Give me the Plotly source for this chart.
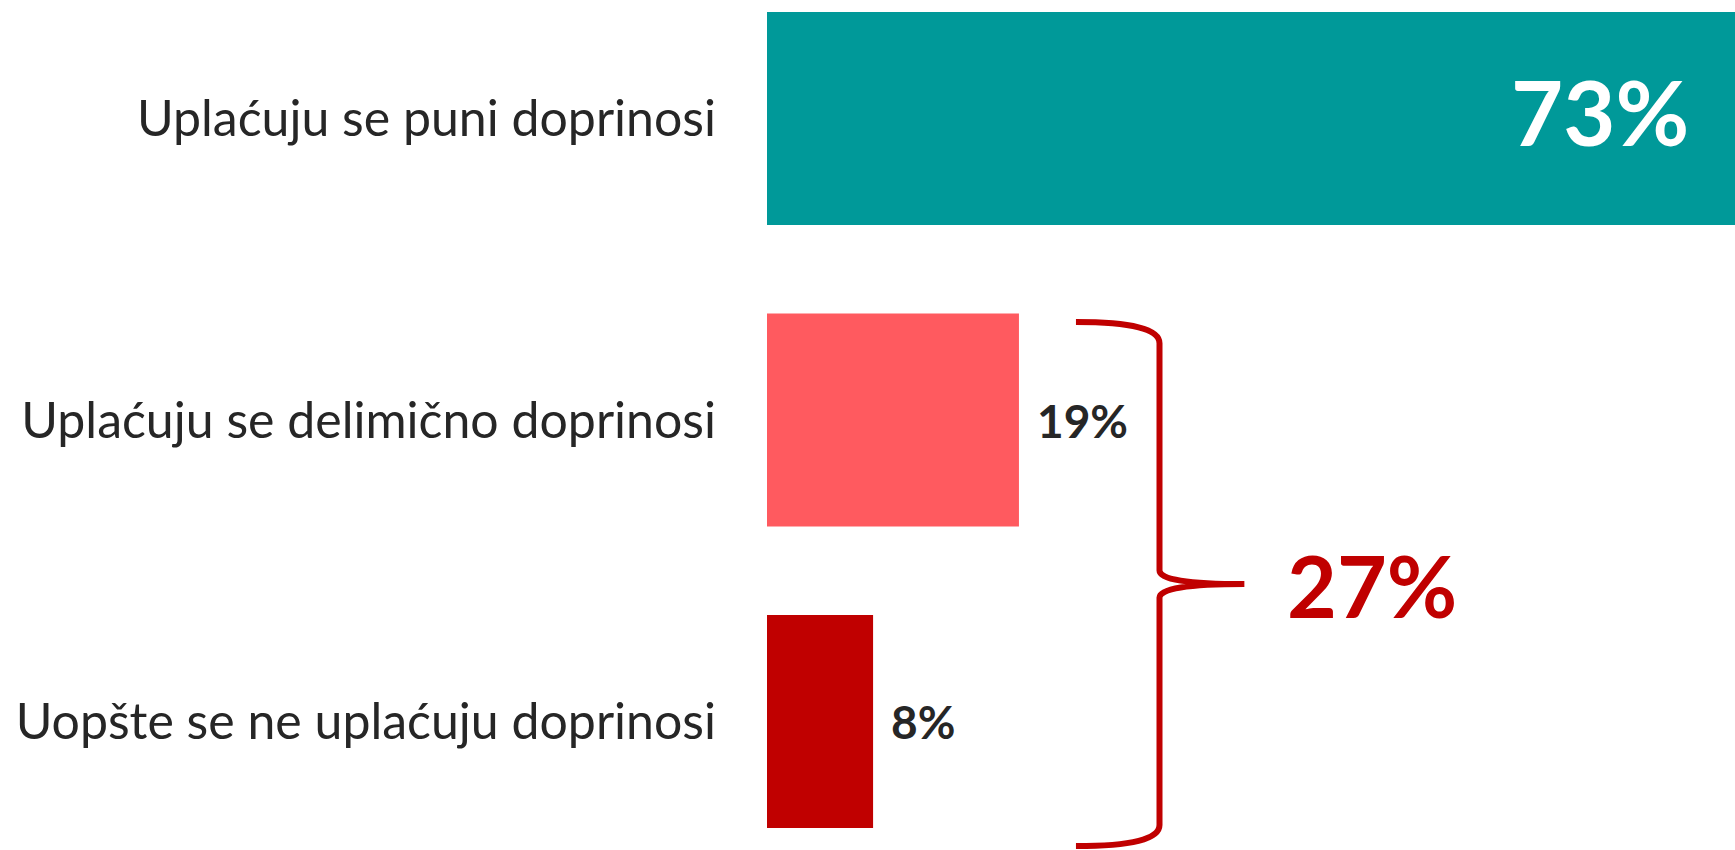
import plotly.graph_objects as go

categories = ["Uplaćuju se puni doprinosi", "Uplaćuju se delimično doprinosi", "Uopšte se ne uplaćuju doprinosi"]
values = [73, 19, 8]
value_labels = ["73%", "19%", "8%"]
bar_colors = ["#009999", "#FF5A5F", "#C00000"]
group_members = [1, 2]
group_total = 27
group_label = "27%"

FONT = "Lato"
ypos = list(range(len(categories)))
bar_w = 0.706

fig = go.Figure()
fig.add_trace(go.Bar(
    x=values, y=ypos, orientation="h", width=bar_w,
    marker=dict(color=bar_colors, line=dict(width=0)),
    hoverinfo="skip", showlegend=False,
))

# value labels
for i, (v, lab) in enumerate(zip(values, value_labels)):
    if i == 0:
        fig.add_annotation(x=v, y=i, text=f"<b>{lab}</b>", showarrow=False,
                           xanchor="right", yanchor="middle", xshift=-44, yshift=8,
                           font=dict(family=FONT, size=90, color="white"))
    else:
        fig.add_annotation(x=v, y=i, text=f"<b>{lab}</b>", showarrow=False,
                           xanchor="left", yanchor="middle", xshift=16,
                           font=dict(family=FONT, size=46, color="#262626"))

# curly brace spanning the grouped categories
y_top = min(group_members) - bar_w / 2 + 0.028
y_bot = max(group_members) + bar_w / 2 + 0.06
y_mid = (y_top + y_bot) / 2
x_l, x_v, x_t = 23.3, 29.6, 36.0
c = 0.07
path = (f"M {x_l},{y_top} Q {x_v},{y_top} {x_v},{y_top + c} "
        f"L {x_v},{y_mid - 0.045} Q {x_v},{y_mid} {x_t},{y_mid} "
        f"Q {x_v},{y_mid} {x_v},{y_mid + 0.045} "
        f"L {x_v},{y_bot - c} Q {x_v},{y_bot} {x_l},{y_bot}")
fig.add_shape(type="path", path=path, xref="x", yref="y",
              line=dict(color="#C00000", width=6))
fig.add_annotation(x=39.1, y=y_mid, text=f"<b>{group_label}</b>", showarrow=False,
                   xanchor="left", yanchor="middle",
                   font=dict(family=FONT, size=86, color="#C00000"))

fig.update_layout(
    width=1735, height=850,
    margin=dict(l=767, r=0, t=0, b=0),
    paper_bgcolor="white", plot_bgcolor="white",
    xaxis=dict(range=[0, 73], visible=False, fixedrange=True),
    yaxis=dict(range=[2.426, -0.393], tickvals=ypos, ticktext=categories,
               showgrid=False, zeroline=False, showline=False, ticks="",
               ticklabelstandoff=50, fixedrange=True,
               tickfont=dict(family=FONT, size=50, color="#262626")),
)
fig.write_html("out.html", config={"displayModeBar": False},
               post_script="document.body.style.margin='0';document.body.style.overflow='hidden';")
